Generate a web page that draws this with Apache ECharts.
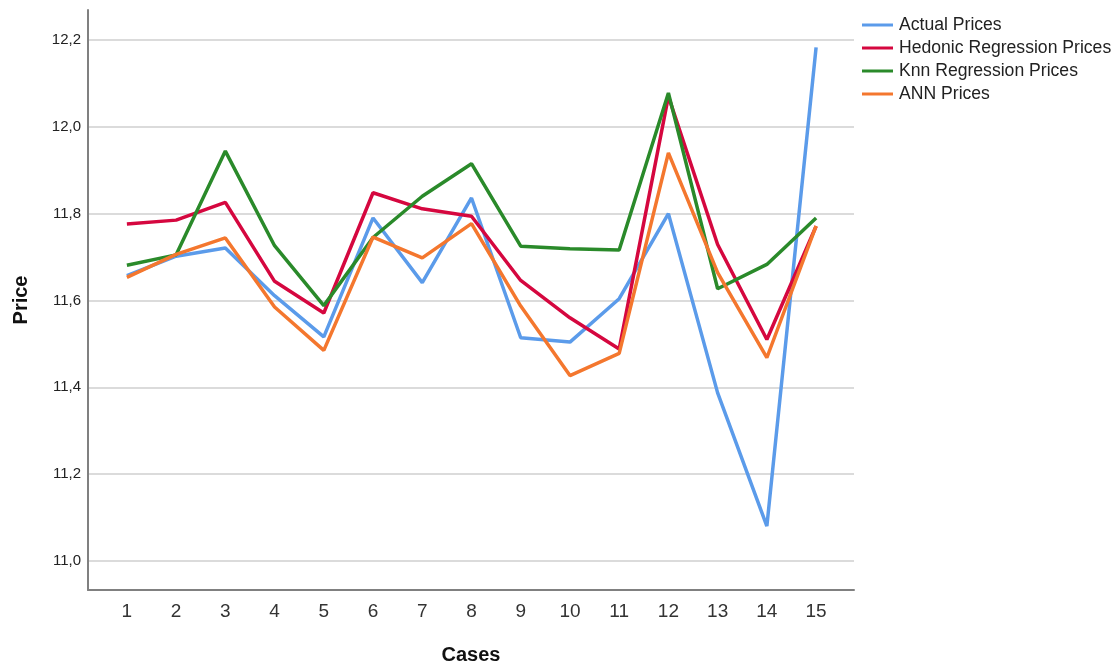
<!DOCTYPE html>
<html>
<head>
<meta charset="utf-8">
<script src="https://cdn.jsdelivr.net/npm/echarts@6/dist/echarts.min.js"></script>
<style>html,body{margin:0;padding:0;background:#fff}#c{width:1115px;height:665px}</style>
</head>
<body>
<div id="c"></div>
<script>
const cases = [1,2,3,4,5,6,7,8,9,10,11,12,13,14,15];
const yTicks = [11.0, 11.2, 11.4, 11.6, 11.8, 12.0, 12.2];
const actual   = [11.657, 11.702, 11.721, 11.611, 11.516, 11.790, 11.641, 11.836, 11.514, 11.504, 11.604, 11.800, 11.387, 11.080, 12.183];
const hedonic  = [11.776, 11.785, 11.826, 11.644, 11.571, 11.848, 11.811, 11.794, 11.646, 11.560, 11.488, 12.070, 11.729, 11.510, 11.771];
const knn      = [11.681, 11.705, 11.944, 11.726, 11.588, 11.745, 11.840, 11.915, 11.725, 11.719, 11.716, 12.078, 11.627, 11.683, 11.790];
const ann      = [11.653, 11.706, 11.744, 11.585, 11.485, 11.746, 11.698, 11.777, 11.587, 11.427, 11.478, 11.940, 11.664, 11.468, 11.772];
const names = ['Actual Prices', 'Hedonic Regression Prices', 'Knn Regression Prices', 'ANN Prices'];
const colors = ['#5b9bea', '#d5073f', '#2a8a2a', '#f4772e'];
const seriesData = [actual, hedonic, knn, ann];

const el = document.getElementById('c');
const chart = echarts.init(el, null, {renderer: 'canvas'});
chart.setOption({
  animation: false,
  backgroundColor: '#ffffff',
  textStyle: {fontFamily: 'Liberation Sans, Arial, sans-serif'},
  grid: {left: 88, top: 10, right: 261, bottom: 75, containLabel: false, outerBoundsMode: 'none'},
  legend: {
    orient: 'vertical', left: 862, top: 16, padding: 0,
    itemWidth: 31, itemHeight: 3, itemGap: 5,
    icon: 'rect',
    textStyle: {fontSize: 17.6, color: '#222', lineHeight: 18, padding: [0, 0, 0, 1]},
    data: names
  },
  xAxis: {
    type: 'value', min: 0.21, max: 15.77,
    name: 'Cases', nameLocation: 'middle', nameGap: 55,
    nameTextStyle: {fontSize: 20, fontWeight: 'bold', color: '#111'},
    axisLine: {show: true, lineStyle: {color: '#808080', width: 2}},
    axisTick: {show: false, customValues: cases},
    axisLabel: {customValues: cases, fontSize: 19, color: '#333', margin: 12},
    splitLine: {show: false}
  },
  yAxis: {
    type: 'value', min: 10.933, max: 12.269,
    name: 'Price', nameLocation: 'middle', nameGap: 57, nameRotate: 90,
    nameTextStyle: {fontSize: 20, fontWeight: 'bold', color: '#111'},
    axisLine: {show: true, lineStyle: {color: '#808080', width: 2}},
    axisTick: {show: false, customValues: yTicks},
    axisLabel: {customValues: yTicks, fontSize: 15, color: '#222', margin: 7,
      formatter: v => v.toFixed(1).replace('.', ',')},
    splitLine: {show: true, lineStyle: {color: '#cfcfcf', width: 1.5}}
  },
  series: seriesData.map((d, i) => ({
    name: names[i], type: 'line',
    data: cases.map((c, j) => [c, d[j]]),
    showSymbol: false, symbol: 'none',
    itemStyle: {color: colors[i]},
    lineStyle: {color: colors[i], width: 3.5},
    z: 2 + i
  }))
});
</script>
</body>
</html>
